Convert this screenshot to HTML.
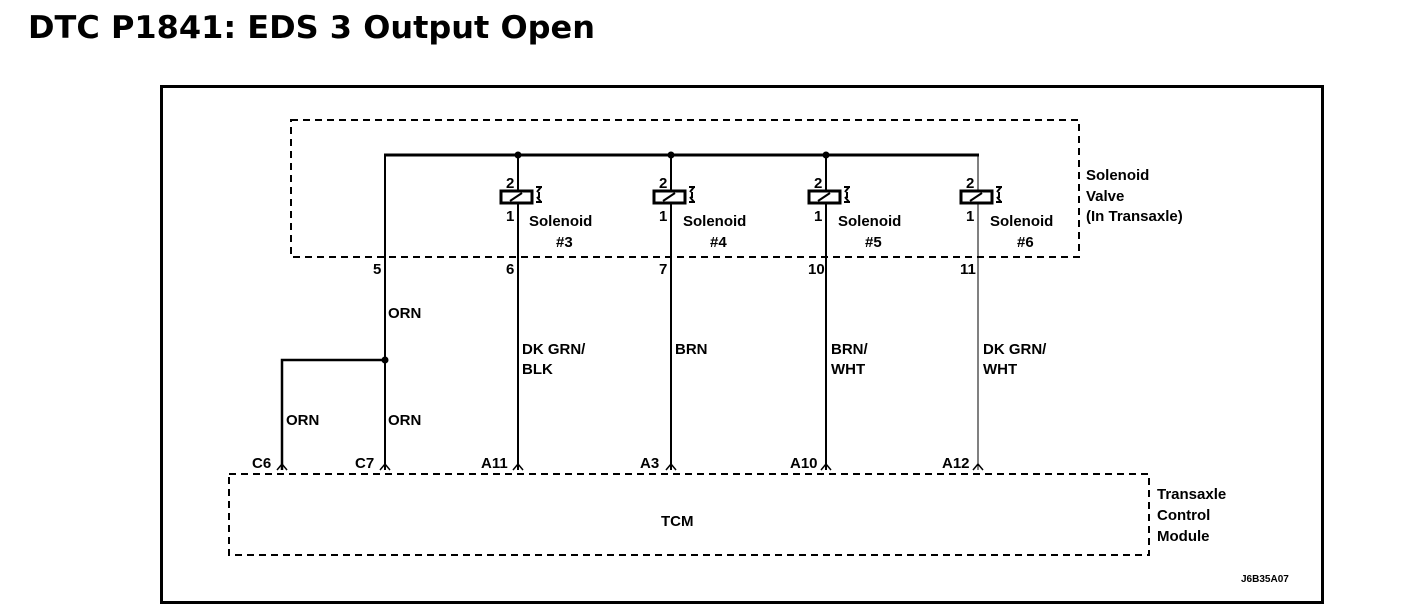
<!DOCTYPE html>
<html><head><style>
html,body{margin:0;padding:0;background:#fff;}
svg{display:block;}
text{font-family:"Liberation Sans",Arial,sans-serif;font-weight:bold;fill:#000;}
</style></head><body>
<svg width="1408" height="610" viewBox="0 0 1408 610" xmlns="http://www.w3.org/2000/svg">
<text x="28" y="38" style="font-family:'DejaVu Sans',sans-serif;font-size:31px;font-weight:bold" textLength="567" lengthAdjust="spacingAndGlyphs">DTC P1841: EDS 3 Output Open</text>
<rect x="161.5" y="86.5" width="1161" height="516" fill="none" stroke="#000" stroke-width="3"/>
<rect x="291" y="120" width="788" height="137" fill="none" stroke="#000" stroke-width="2" stroke-dasharray="7,5"/>
<rect x="229" y="474" width="920" height="81" fill="none" stroke="#000" stroke-width="2" stroke-dasharray="7,5"/>
<g stroke="#000" fill="none">
<line x1="384" y1="155" x2="979" y2="155" stroke-width="3"/>
<line x1="385" y1="155" x2="385" y2="470" stroke-width="2"/>
<polyline points="282,470 282,360 385,360" stroke-width="2.5"/>
<line x1="518" y1="155" x2="518" y2="470" stroke-width="2"/>
<line x1="671" y1="155" x2="671" y2="470" stroke-width="2"/>
<line x1="826" y1="155" x2="826" y2="470" stroke-width="2"/>
<line x1="978" y1="155" x2="978" y2="470" stroke-width="1"/>
</g>
<g fill="#000">
<circle cx="518" cy="155" r="3.5"/><circle cx="671" cy="155" r="3.5"/><circle cx="826" cy="155" r="3.5"/><circle cx="385" cy="360" r="3.5"/>
</g>
<g stroke="#000" fill="none" stroke-width="1.5">
<path d="M277,470 L282,464 L287,470"/><path d="M380,470 L385,464 L390,470"/><path d="M513,470 L518,464 L523,470"/><path d="M666,470 L671,464 L676,470"/><path d="M821,470 L826,464 L831,470"/><path d="M973,470 L978,464 L983,470"/>
</g>
<g id="sol" stroke="#000" fill="#fff" stroke-width="3">
<rect x="501" y="191" width="31" height="12"/><line x1="510" y1="201" x2="522" y2="193" stroke-width="2"/>
<path d="M536,187 L542,187 M537,192 L541,187 M537,197 L541,202 M536,202 L542,202 M539,192 L539,198" stroke-width="2" fill="none"/>
</g>
<use href="#sol" x="153"/><use href="#sol" x="308"/><use href="#sol" x="460"/>
<g font-size="15">
<text x="506" y="188">2</text><text x="506" y="221">1</text>
<text x="659" y="188">2</text><text x="659" y="221">1</text>
<text x="814" y="188">2</text><text x="814" y="221">1</text>
<text x="966" y="188">2</text><text x="966" y="221">1</text>
<text x="373" y="274">5</text><text x="506" y="274">6</text><text x="659" y="274">7</text><text x="808" y="274">10</text><text x="960" y="274">11</text>
</g>
<g font-size="15" font-weight="normal">
<text x="529" y="226">Solenoid</text><text x="556" y="247">#3</text>
<text x="683" y="226">Solenoid</text><text x="710" y="247">#4</text>
<text x="838" y="226">Solenoid</text><text x="865" y="247">#5</text>
<text x="990" y="226">Solenoid</text><text x="1017" y="247">#6</text>
<text x="1086" y="180">Solenoid</text><text x="1086" y="201">Valve</text><text x="1086" y="221">(In Transaxle)</text>
<text x="388" y="318">ORN</text><text x="286" y="425">ORN</text><text x="388" y="425">ORN</text>
<text x="522" y="354">DK GRN/</text><text x="522" y="374">BLK</text>
<text x="675" y="354">BRN</text>
<text x="831" y="354">BRN/</text><text x="831" y="374">WHT</text>
<text x="983" y="354">DK GRN/</text><text x="983" y="374">WHT</text>
<text x="252" y="468">C6</text><text x="355" y="468">C7</text><text x="481" y="468">A11</text><text x="640" y="468">A3</text><text x="790" y="468">A10</text><text x="942" y="468">A12</text>
<text x="1157" y="499">Transaxle</text><text x="1157" y="520">Control</text><text x="1157" y="541">Module</text>
</g>
<text x="661" y="526" font-size="15">TCM</text>
<text x="1241" y="582" font-size="10">J6B35A07</text>
</svg>
</body></html>
